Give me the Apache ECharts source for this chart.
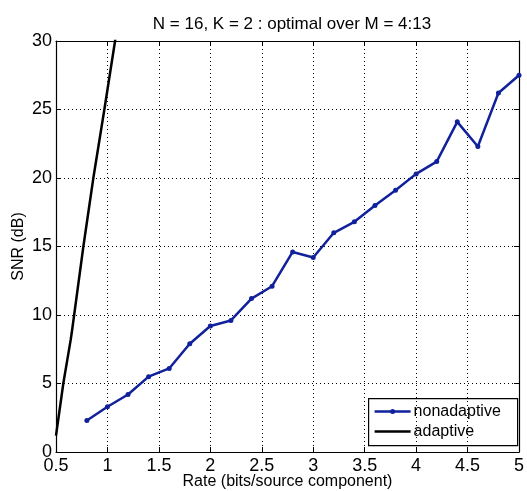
<!DOCTYPE html>
<html>
<head>
<meta charset="utf-8">
<script src="https://cdn.jsdelivr.net/npm/echarts@6/dist/echarts.min.js"></script>
<style>
  html, body { margin: 0; padding: 0; background: #fff; }
  #chart { width: 527px; height: 491px; }
</style>
</head>
<body>
<div id="chart"></div>
<script>
// Rate values (bits/source component) for the nonadaptive scheme
var rates = [0.8, 1.0, 1.2, 1.4, 1.6, 1.8, 2.0, 2.2, 2.4, 2.6, 2.8, 3.0, 3.2, 3.4, 3.6, 3.8, 4.0, 4.2, 4.4, 4.6, 4.8, 5.0];
var nonadaptiveSNR = [2.3, 3.3, 4.2, 5.5, 6.1, 7.9, 9.2, 9.6, 11.2, 12.1, 14.6, 14.2, 16.0, 16.8, 18.0, 19.1, 20.3, 21.2, 24.1, 22.3, 26.2, 27.5];

// Adaptive scheme: rate and SNR
var adaptiveRates = [0.5, 0.571, 0.643, 0.653, 0.766, 0.863, 0.97, 1.074, 1.09];
var adaptiveSNR = [1.2, 5.0, 8.2, 8.7, 15.0, 20.0, 25.0, 30.0, 30.8];

var xTicks = [0.5, 1, 1.5, 2, 2.5, 3, 3.5, 4, 4.5, 5];
var yTicks = [0, 5, 10, 15, 20, 25, 30];

var BLUE = '#11219c';

function pairs(xs, ys) { return xs.map(function (x, i) { return [x, ys[i]]; }); }

var font = 'Liberation Sans, Arial, Helvetica, sans-serif';
var chart = echarts.init(document.getElementById('chart'), null, { renderer: 'canvas' });

var gridLine = { show: true, lineStyle: { color: '#000', type: [1, 3], width: 1 } };
var frameLine = { show: true, onZero: false, lineStyle: { color: '#000', width: 1.2 } };
var tick = { show: true, inside: true, length: 5, lineStyle: { color: '#000' } };

// Legend box drawn as graphic elements (line sample + label per entry)
var lg = { x: 368, y: 398, w: 149, h: 47 };
var legendGraphic = {
  type: 'group', left: lg.x, top: lg.y, z: 100,
  children: [
    { type: 'rect', shape: { x: 0, y: 0, width: lg.w, height: lg.h },
      style: { fill: '#fff', stroke: '#000', lineWidth: 1.2 } },
    { type: 'line', shape: { x1: 6, y1: 13, x2: 42, y2: 13 },
      style: { stroke: BLUE, lineWidth: 2.5 } },
    { type: 'circle', shape: { cx: 24, cy: 13, r: 2.5 }, style: { fill: BLUE } },
    { type: 'text', x: 45, y: 13,
      style: { text: 'nonadaptive', font: '16px ' + font, fill: '#000', verticalAlign: 'middle' } },
    { type: 'line', shape: { x1: 6, y1: 33, x2: 42, y2: 33 },
      style: { stroke: '#000', lineWidth: 2.5 } },
    { type: 'text', x: 45, y: 33,
      style: { text: 'adaptive', font: '16px ' + font, fill: '#000', verticalAlign: 'middle' } }
  ]
};

chart.setOption({
  animation: false,
  backgroundColor: '#fff',
  title: {
    text: 'N = 16, K = 2 : optimal over M = 4:13',
    left: 287, top: 11, textAlign: 'center',
    textStyle: { fontFamily: font, fontSize: 17, fontWeight: 'normal', color: '#000' }
  },
  grid: { left: 56, right: 8, top: 41, bottom: 39, containLabel: false, outerBoundsMode: 'none' },
  xAxis: [{
    type: 'value', min: 0.5, max: 5, interval: 0.5,
    name: 'Rate (bits/source component)', nameLocation: 'middle', nameGap: 22,
    nameMoveOverlap: false,
    nameTextStyle: { fontFamily: font, fontSize: 16, color: '#000' },
    axisLine: frameLine, axisTick: tick,
    axisLabel: {
      fontFamily: font, fontSize: 18, color: '#000', margin: 5, showMinLabel: true, showMaxLabel: true,
      formatter: function (v) { return xTicks.indexOf(v) >= 0 ? String(v) : ''; }
    },
    splitLine: gridLine
  }, {
    type: 'value', min: 0.5, max: 5, interval: 0.5, position: 'top',
    axisLine: frameLine, axisTick: tick,
    axisLabel: { show: false }, splitLine: { show: false }
  }],
  yAxis: [{
    type: 'value', min: 0, max: 30, interval: 5,
    name: 'SNR (dB)', nameLocation: 'middle', nameGap: 29, nameRotate: 90,
    nameMoveOverlap: false,
    nameTextStyle: { fontFamily: font, fontSize: 16, color: '#000' },
    axisLine: frameLine, axisTick: tick,
    axisLabel: {
      fontFamily: font, fontSize: 18, color: '#000', margin: 4,
      formatter: function (v) { return yTicks.indexOf(v) >= 0 ? String(v) : ''; }
    },
    splitLine: gridLine
  }, {
    type: 'value', min: 0, max: 30, interval: 5, position: 'right',
    axisLine: frameLine, axisTick: tick,
    axisLabel: { show: false }, splitLine: { show: false }
  }],
  graphic: [legendGraphic],
  series: [{
    name: 'nonadaptive', type: 'line', data: pairs(rates, nonadaptiveSNR),
    symbol: 'circle', symbolSize: 5, showSymbol: true,
    lineStyle: { color: BLUE, width: 2.5 },
    itemStyle: { color: BLUE },
    z: 3
  }, {
    name: 'adaptive', type: 'line', data: pairs(adaptiveRates, adaptiveSNR),
    symbol: 'none', clip: true,
    lineStyle: { color: '#000', width: 2.5 },
    itemStyle: { color: '#000' },
    z: 2
  }]
});
</script>
</body>
</html>
